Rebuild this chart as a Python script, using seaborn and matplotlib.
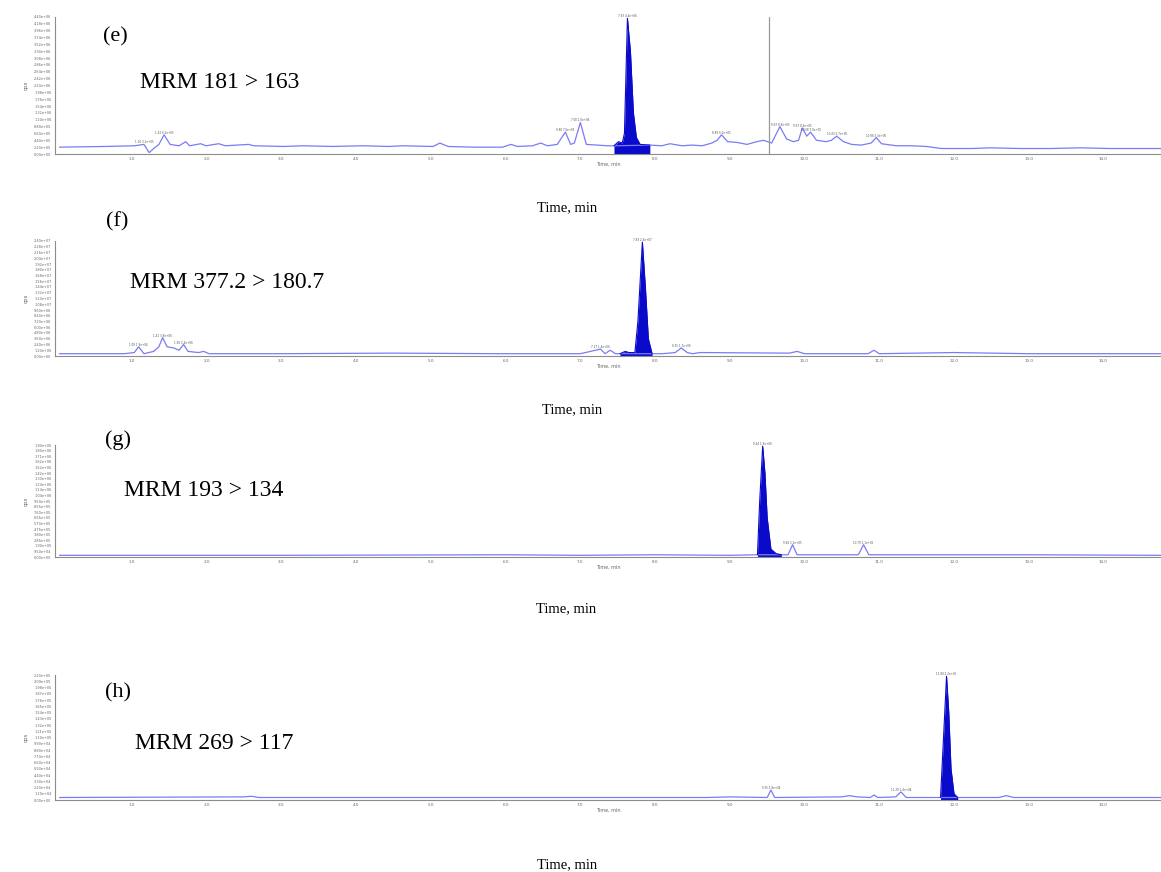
import numpy as np
import matplotlib
matplotlib.use("Agg")
import matplotlib.pyplot as plt
import seaborn as sns

# -----------------------------
# Data (time in min, signal as fraction of the panel max)
# -----------------------------
e_time = [0.03, 0.63, 1.03, 1.16, 1.23, 1.29, 1.36, 1.43, 1.51, 1.63, 1.72, 1.77, 1.92, 1.99,
          2.16, 2.25, 2.56, 2.63, 3.03, 3.29, 3.69, 4.09, 4.43, 4.63, 5.03, 5.12, 5.23, 5.56,
          5.96, 6.07, 6.16, 6.36, 6.47, 6.56, 6.69, 6.80, 6.87, 6.92, 7.00, 7.08, 7.23, 7.36,
          7.45, 7.93, 8.09, 8.20, 8.36, 8.49, 8.63, 8.76, 8.83, 8.89, 8.97, 9.09, 9.23, 9.36,
          9.45, 9.56, 9.67, 9.76, 9.85, 9.92, 9.97, 10.03, 10.08, 10.16, 10.29, 10.36, 10.43,
          10.52, 10.63, 10.76, 10.89, 10.96, 11.03, 11.23, 11.43, 11.63, 11.83, 12.23, 12.49,
          12.89, 13.29, 13.69, 14.09, 14.77]
e_signal = [0.05, 0.055, 0.06, 0.07, 0.01, 0.04, 0.07, 0.14, 0.07, 0.06, 0.09, 0.06, 0.075, 0.06,
            0.075, 0.06, 0.07, 0.06, 0.055, 0.06, 0.055, 0.06, 0.055, 0.06, 0.055, 0.08, 0.055, 0.05,
            0.05, 0.07, 0.055, 0.06, 0.08, 0.06, 0.07, 0.16, 0.07, 0.08, 0.23, 0.07, 0.065, 0.06,
            0.06, 0.065, 0.06, 0.075, 0.06, 0.065, 0.06, 0.08, 0.1, 0.14, 0.09, 0.085, 0.07, 0.09,
            0.1, 0.08, 0.2, 0.11, 0.09, 0.1, 0.19, 0.13, 0.16, 0.1, 0.09, 0.1, 0.13,
            0.09, 0.07, 0.065, 0.08, 0.12, 0.075, 0.06, 0.06, 0.055, 0.04, 0.04, 0.045,
            0.04, 0.04, 0.045, 0.04, 0.04]
e_peak_time = [7.45, 7.51, 7.56, 7.59, 7.63, 7.67, 7.71, 7.75, 7.80, 7.93]
e_peak_signal = [0.06, 0.09, 0.08, 0.15, 0.99, 0.75, 0.3, 0.12, 0.07, 0.065]

f_time = [0.03, 0.9, 1.03, 1.09, 1.16, 1.29, 1.36, 1.41, 1.47, 1.56, 1.63, 1.69, 1.75, 1.89,
          1.96, 2.03, 3.0, 4.5, 5.9, 6.5, 7.0, 7.27, 7.33, 7.40, 7.47, 7.53, 7.96, 8.1, 8.27,
          8.35, 8.43, 8.5, 8.6, 9.8, 9.9, 10.0, 10.85, 10.93, 11.0, 11.5, 12.0, 13.0, 14.77]
f_signal = [0.02, 0.02, 0.03, 0.08, 0.02, 0.04, 0.08, 0.16, 0.08, 0.07, 0.05, 0.1, 0.04, 0.03,
            0.04, 0.02, 0.02, 0.025, 0.02, 0.02, 0.02, 0.06, 0.02, 0.05, 0.02, 0.02, 0.02, 0.02, 0.03,
            0.07, 0.03, 0.02, 0.03, 0.025, 0.04, 0.02, 0.02, 0.05, 0.02, 0.025, 0.03, 0.02, 0.02]
f_peak_time = [7.53, 7.60, 7.65, 7.73, 7.77, 7.83, 7.87, 7.91, 7.96]
f_peak_signal = [0.02, 0.04, 0.03, 0.03, 0.3, 0.99, 0.6, 0.15, 0.02]

g_time = [0.03, 3.0, 6.0, 7.0, 8.0, 9.0, 9.37, 9.69, 9.78, 9.84, 9.90, 10.72, 10.79, 10.86,
          12.0, 13.0, 14.77]
g_signal = [0.015, 0.015, 0.02, 0.015, 0.02, 0.015, 0.02, 0.02, 0.02, 0.11, 0.02, 0.02, 0.11, 0.02,
            0.02, 0.02, 0.015]
g_peak_time = [9.37, 9.40, 9.44, 9.47, 9.50, 9.55, 9.62, 9.69]
g_peak_signal = [0.02, 0.5, 0.99, 0.75, 0.35, 0.07, 0.03, 0.02]

h_time = [0.03, 2.5, 2.6, 2.7, 5.0, 8.7, 9.0, 9.50, 9.55, 9.60, 10.5, 10.6, 10.7, 10.88, 10.93,
          10.98, 11.22, 11.29, 11.36, 11.82, 12.05, 12.6, 12.7, 12.8, 13.5, 14.77]
h_signal = [0.02, 0.025, 0.03, 0.02, 0.02, 0.02, 0.025, 0.02, 0.08, 0.02, 0.025, 0.035, 0.025, 0.02, 0.04,
            0.02, 0.025, 0.065, 0.02, 0.02, 0.02, 0.02, 0.035, 0.02, 0.02, 0.02]
h_peak_time = [11.82, 11.86, 11.90, 11.93, 11.96, 12.0, 12.05]
h_peak_signal = [0.02, 0.5, 0.99, 0.7, 0.25, 0.05, 0.02]

panel_letters = ["(e)", "(f)", "(g)", "(h)"]
transitions = ["MRM 181 > 163", "MRM 377.2 > 180.7", "MRM 193 > 134", "MRM 269 > 117"]
panel_max = [4.4e6, 2.4e7, 1.9e6, 2.2e5]
x_ticks = [1, 2, 3, 4, 5, 6, 7, 8, 9, 10, 11, 12, 13, 14]
e_marker_time = 9.53

panels = [
    (e_time, e_signal, e_peak_time, e_peak_signal),
    (f_time, f_signal, f_peak_time, f_peak_signal),
    (g_time, g_signal, g_peak_time, g_peak_signal),
    (h_time, h_signal, h_peak_time, h_peak_signal),
]

# -----------------------------
# Layout (pixel boxes of the four axes)
# -----------------------------
W, H = 1161, 872
boxes = [(17, 154), (241, 356), (445, 557), (675, 800)]
letter_pos = [(115, 37), (117, 222), (118, 440), (118, 693)]
mrm_pos = [(140, 83), (130, 283), (124, 490), (135, 743)]
time_pos = [(567, 208), (572, 410), (566, 609), (567, 865)]

sns.set_style("white")
plt.rcParams['font.family'] = ['Liberation Serif', 'DejaVu Serif']
plt.rcParams['text.color'] = 'black'

fig = plt.figure(figsize=(W / 100, H / 100), dpi=100)

line_col = "#7b7bf5"
fill_col = "#0a0acb"
grey = "#8c8c8c"
small = dict(fontsize=2, color="#555555", ha="center", va="bottom", family="DejaVu Sans")

for i, (t, s, pt, ps) in enumerate(panels):
    top, bot = boxes[i]
    ax = fig.add_axes([55 / W, 1 - bot / H, 1 - 55 / W, (bot - top) / H])
    ymax = panel_max[i]
    sig = np.array(s) * ymax
    psig = np.array(ps) * ymax

    sns.lineplot(x=t, y=sig, ax=ax, color=line_col, linewidth=0.9, estimator=None, sort=False)
    ax.fill_between(pt, 0, psig, color=fill_col, linewidth=0)
    ax.plot(pt, psig, color=fill_col, linewidth=0.8)

    # little peak labels
    j = int(np.argmax(ps))
    ax.text(pt[j], psig[j], f"{pt[j]:.2f} {psig[j]:.1e}", **small)
    for k in range(1, len(t) - 1):
        if s[k] >= 0.06 and s[k] > s[k - 1] and s[k] > s[k + 1] and s[k] - min(s[k - 1], s[k + 1]) > 0.03:
            ax.text(t[k], sig[k], f"{t[k]:.2f} {sig[k]:.1e}", **small)

    if i == 0:
        ax.axvline(e_marker_time, color="#999999", linewidth=0.9)

    ax.set_xlim(-0.03, 14.77)
    ax.set_ylim(0, ymax)
    ax.set_xticks(x_ticks)
    ax.set_xticks(np.arange(0.5, 14.6, 1.0), minor=True)
    ax.set_xticklabels([f"{v:.1f}" for v in x_ticks], fontsize=3, color="#666666", family="DejaVu Sans")
    yt = np.linspace(0, ymax, 21)
    ax.set_yticks(yt)
    ax.set_yticklabels([f"{v:.2e}" for v in yt], fontsize=2.5, color="#666666", family="DejaVu Sans")
    ax.tick_params(axis="both", length=1.5, width=0.5, color=grey, pad=1)
    ax.tick_params(axis="x", which="minor", length=1.5, width=0.5, color=grey)
    ax.set_xlabel("Time, min", fontsize=3.5, color="#666666", family="DejaVu Sans", labelpad=0.5)
    ax.set_ylabel("cps", fontsize=4, color="#666666", family="DejaVu Sans", labelpad=4)
    for side in ["top", "right"]:
        ax.spines[side].set_visible(False)
    for side in ["left", "bottom"]:
        ax.spines[side].set_color(grey)
        ax.spines[side].set_linewidth(0.8)
    ax.patch.set_alpha(0)

    lx, ly = letter_pos[i]
    fig.text(lx / W, 1 - ly / H, panel_letters[i], fontsize=16, ha="center", va="center", color="black")
    mx, my = mrm_pos[i]
    fig.text(mx / W, 1 - my / H, transitions[i], fontsize=17, ha="left", va="center", color="black")
    tx, ty = time_pos[i]
    fig.text(tx / W, 1 - ty / H, "Time, min", fontsize=10.5, ha="center", va="center", color="black")

fig.savefig("out.png", dpi=100)
